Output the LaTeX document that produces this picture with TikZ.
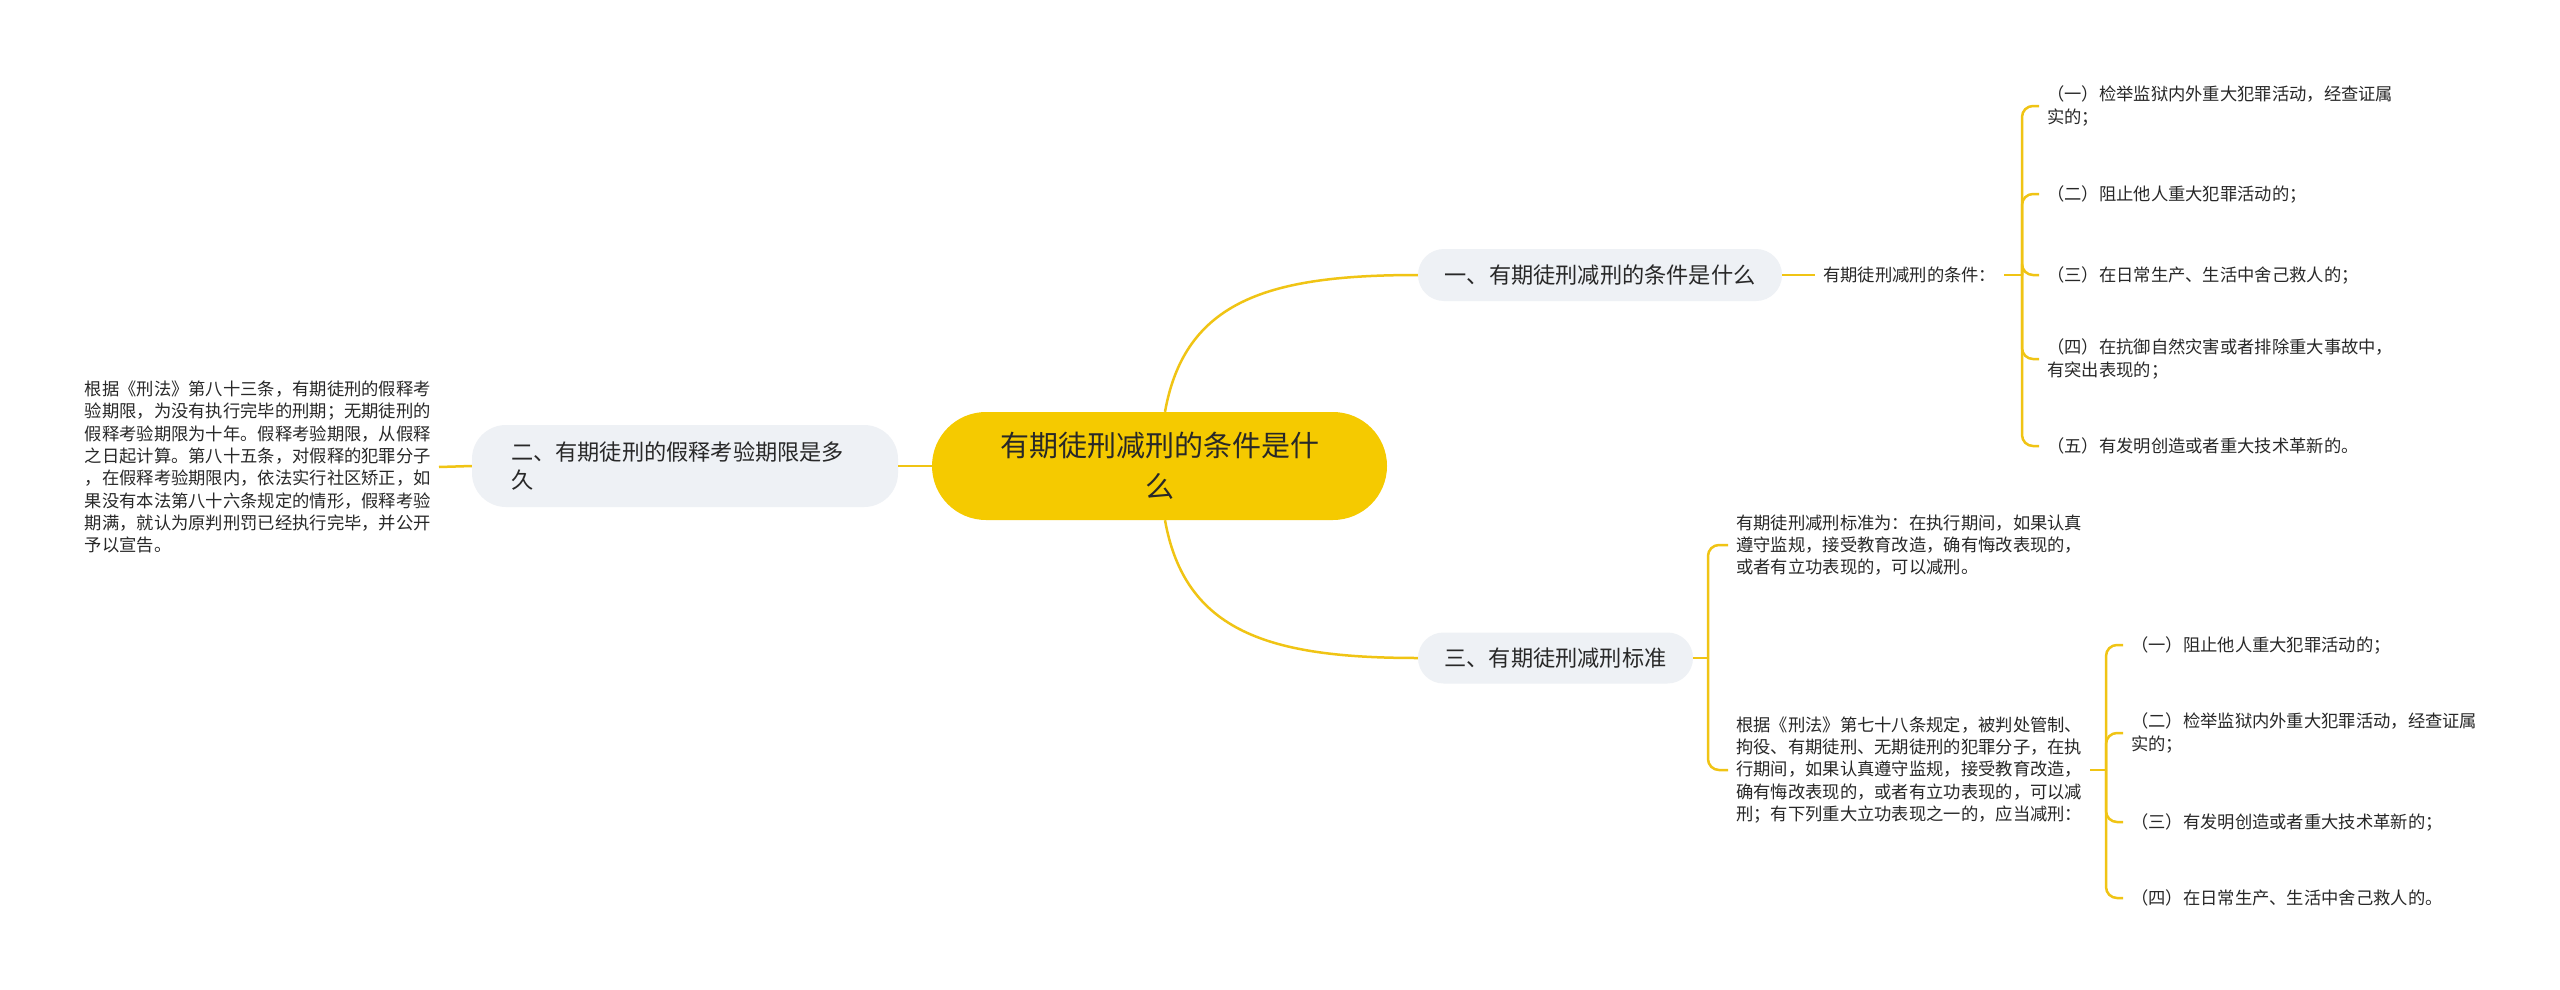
\documentclass[tikz,border=0pt]{standalone}
\usepackage{fontspec}
\setmainfont{Noto Sans CJK SC}
\definecolor{gold}{RGB}{240,196,20}
\definecolor{goldfill}{RGB}{245,202,0}
\definecolor{pale}{RGB}{238,241,245}
\definecolor{ink}{RGB}{40,40,40}
\tikzset{
  link/.style={draw=gold, line width=2.5pt},
  brk/.style={link, rounded corners=11pt},
  root/.style={fill=goldfill, rounded corners=54pt, minimum width=455pt, minimum height=108pt,
    inner sep=0pt, align=center, text=ink, font=\fontsize{29}{41}\selectfont},
  topic/.style={fill=pale, inner sep=0pt, text=ink, font=\fontsize{22.2}{28.5}\selectfont},
  leaf/.style={inner xsep=8pt, inner ysep=2pt, text=ink, align=left, text width=346pt,
    font=\fontsize{17.3}{22.3}\selectfont},
  lbl/.style={inner xsep=8pt, inner ysep=2pt, text=ink, font=\fontsize{17.3}{22.3}\selectfont}
}
\begin{document}
\begin{tikzpicture}[x=1pt,y=-1pt]
\useasboundingbox[fill=white] (0,0) rectangle (2560,990);

% root and topics
\node[root] (c) at (1159.5,466) {有期徒刑减刑的条件是什\\么};
\node[topic, minimum width=364pt, minimum height=52pt, rounded corners=26pt] (n1) at (1600,275) {一、有期徒刑减刑的条件是什么};
\node[topic, minimum width=426pt, minimum height=82pt, rounded corners=34pt, text width=348pt, align=left] (n2) at (685,466) {二、有期徒刑的假释考验期限是多\\久};
\node[topic, minimum width=275pt, minimum height=51pt, rounded corners=25.5pt] (n3) at (1555.5,658) {三、有期徒刑减刑标准};

% left text
\node[leaf, anchor=east] (lt) at (439,467) {根据《刑法》第八十三条，有期徒刑的假释考\\验期限，为没有执行完毕的刑期；无期徒刑的\\假释考验期限为十年。假释考验期限，从假释\\之日起计算。第八十五条，对假释的犯罪分子\\，在假释考验期限内，依法实行社区矫正，如\\果没有本法第八十六条规定的情形，假释考验\\期满，就认为原判刑罚已经执行完毕，并公开\\予以宣告。};

% topic 1 children
\node[lbl, anchor=west] (lbl) at (1815,275) {有期徒刑减刑的条件：};
\node[leaf, anchor=west] (t1) at (2039,106) {（一）检举监狱内外重大犯罪活动，经查证属\\实的；};
\node[leaf, anchor=west] (t2) at (2039,194) {（二）阻止他人重大犯罪活动的；};
\node[leaf, anchor=west] (t3) at (2039,275) {（三）在日常生产、生活中舍己救人的；};
\node[leaf, anchor=west] (t4) at (2039,359) {（四）在抗御自然灾害或者排除重大事故中，\\有突出表现的；};
\node[leaf, anchor=west] (t5) at (2039,446) {（五）有发明创造或者重大技术革新的。};

% topic 3 children
\node[leaf, anchor=west] (sa) at (1728,545) {有期徒刑减刑标准为：在执行期间，如果认真\\遵守监规，接受教育改造，确有悔改表现的，\\或者有立功表现的，可以减刑。};
\node[leaf, anchor=west] (sb) at (1728,770) {根据《刑法》第七十八条规定，被判处管制、\\拘役、有期徒刑、无期徒刑的犯罪分子，在执\\行期间，如果认真遵守监规，接受教育改造，\\确有悔改表现的，或者有立功表现的，可以减\\刑；有下列重大立功表现之一的，应当减刑：};
\node[leaf, anchor=west] (u1) at (2123,645) {（一）阻止他人重大犯罪活动的；};
\node[leaf, anchor=west] (u2) at (2123,733) {（二）检举监狱内外重大犯罪活动，经查证属\\实的；};
\node[leaf, anchor=west] (u3) at (2123,822) {（三）有发明创造或者重大技术革新的；};
\node[leaf, anchor=west] (u4) at (2123,898) {（四）在日常生产、生活中舍己救人的。};

% connectors
\draw[link] (c.west) -- (n2.east);
\draw[link] (n2.west) -- (lt.east);
\draw[link] ([xshift=5.5pt]c.north) .. controls +(20,-112) and +(-148,0) .. (n1.west);
\draw[link] ([xshift=5.5pt]c.south) .. controls +(20,112) and +(-148,0) .. (n3.west);

\draw[link] (n1.east) -- (lbl.west);
\coordinate (b1) at (2022,275);
\draw[link] (lbl.east) -- (b1);
\foreach \t in {t1,t2,t3,t4,t5} { \draw[brk] (b1) |- (\t.west); }

\coordinate (b3) at (1708,658);
\draw[link] (n3.east) -- (b3);
\draw[brk] (b3) |- (sa.west);
\draw[brk] (b3) |- (sb.west);

\coordinate (b4) at (2106,770);
\draw[link] (sb.east) -- (b4);
\foreach \u in {u1,u2,u3,u4} { \draw[brk] (b4) |- (\u.west); }
\end{tikzpicture}
\end{document}
